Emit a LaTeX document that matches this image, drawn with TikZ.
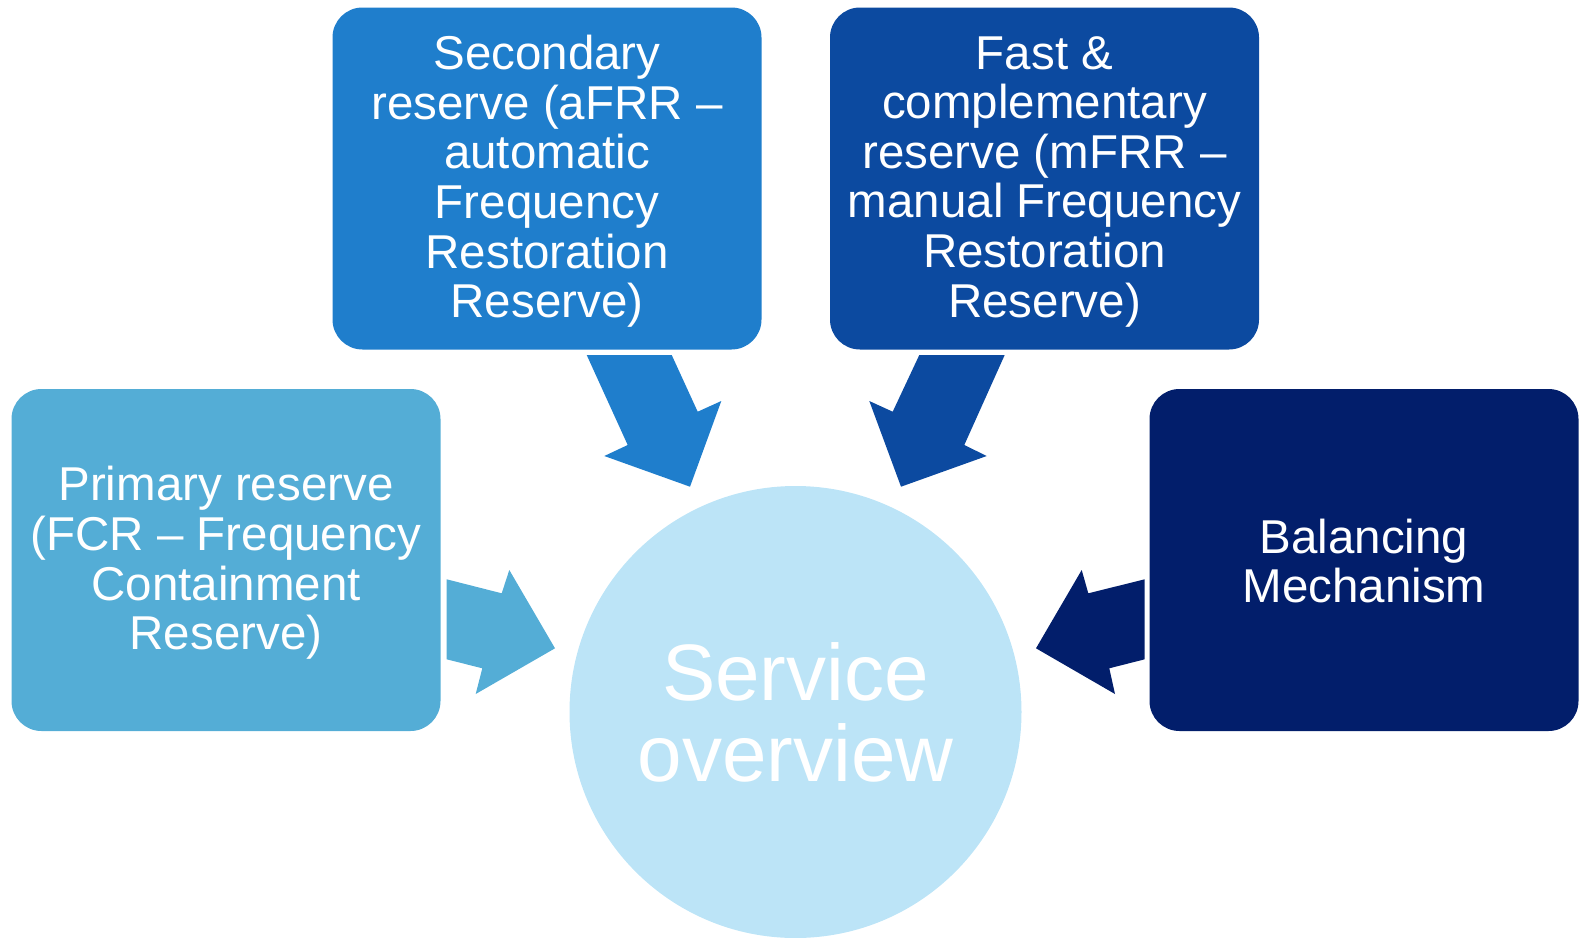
\documentclass[tikz,border=0pt]{standalone}
\usepackage{fontspec}
\setmainfont{Liberation Sans}
\definecolor{cPrim}{HTML}{54ADD6}
\definecolor{cSec}{HTML}{1F7ECC}
\definecolor{cFast}{HTML}{0C4AA0}
\definecolor{cBal}{HTML}{021E6B}
\definecolor{cCirc}{HTML}{BCE4F7}
\begin{document}
\begin{tikzpicture}[x=1pt,y=-1pt]
\tikzset{
  box/.style={rectangle, rounded corners=30pt, minimum width=429pt, minimum height=342pt,
    inner sep=0pt, text=white, align=center, font=\fontsize{47.5}{49.6}\selectfont},
  lbl/.style={inner sep=0pt, text=white, align=center, font=\fontsize{47.5}{49.6}\selectfont},
  hub/.style={circle, fill=cCirc, minimum size=452pt, inner sep=0pt, text=white,
    align=center, font=\fontsize{80}{81}\selectfont}
}
\useasboundingbox (0,0) rectangle (1579,937);
% boxes
\node[box, fill=cPrim] (prim) at (226,560) {};
\node[box, fill=cSec] (sec) at (547,178.5) {};
\node[box, fill=cFast] (fast) at (1044.5,178.5) {};
\node[box, fill=cBal] (bal) at (1364,560) {};
\node[lbl] (primt) at ([yshift=-3pt]prim.center) {Primary reserve\\(FCR -- Frequency\\Containment\\Reserve)};
\node[lbl] (sect) at ([yshift=-3pt]sec.center) {Secondary\\reserve (aFRR --\\automatic\\Frequency\\Restoration\\Reserve)};
\node[lbl] (fastt) at ([yshift=-3pt]fast.center) {Fast \&\\complementary\\reserve (mFRR --\\manual Frequency\\Restoration\\Reserve)};
\node[lbl] (balt) at ([yshift=-1pt]bal.center) {Balancing\\Mechanism};
% hub
\node[hub] (svc) at (795.5,712) {Service\\overview};
% block arrows
\fill[cPrim] (446.7,579.3) -- (501.7,593.3) -- (509.3,570) -- (555,648.3) -- (475.7,694) -- (482.3,668.3) -- (446.7,659.3) -- cycle;
\fill[cBal] (1144.7,579.3) -- (1088.3,593.3) -- (1081.7,570) -- (1036,648.3) -- (1115,694) -- (1109.3,668.3) -- (1144.7,659.3) -- cycle;
\fill[cSec] (586.7,355) -- (671.7,355) -- (697.7,411.7) -- (721.3,401) -- (690,486.7) -- (604.3,456) -- (627.7,445) -- cycle;
\fill[cFast] (919.3,355) -- (1004.7,355) -- (964.3,445) -- (986.7,456) -- (901,486.7) -- (869.3,401) -- (892.7,411.7) -- cycle;
\end{tikzpicture}
\end{document}
